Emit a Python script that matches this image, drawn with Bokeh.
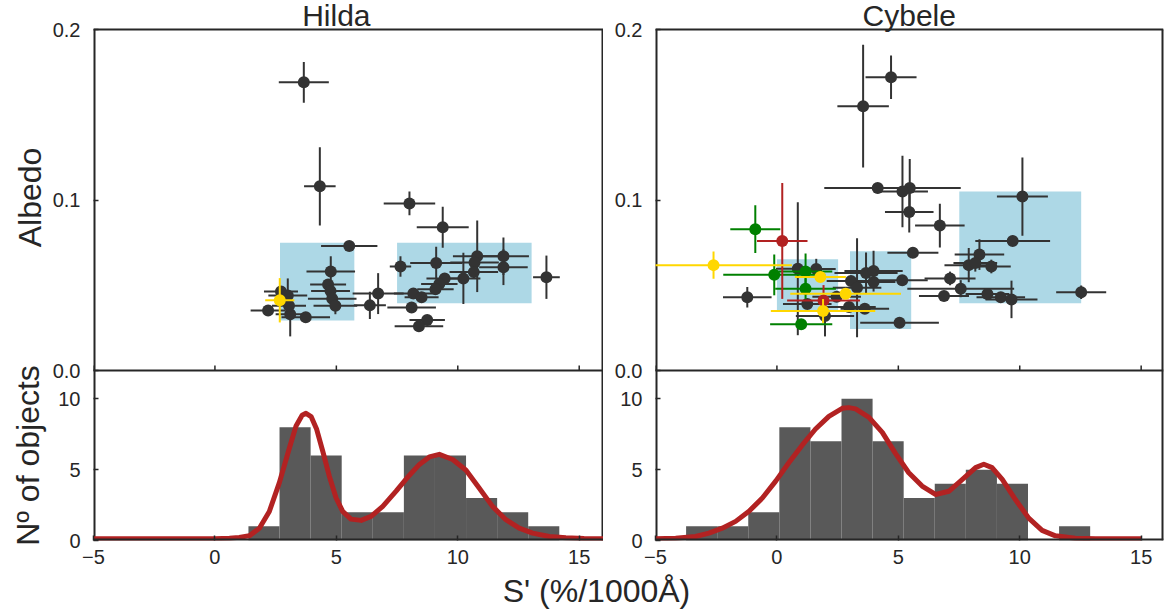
import numpy as np
from bokeh.plotting import figure
from bokeh.layouts import column, row
from bokeh.models import Range1d, FixedTicker, Label, Span
from bokeh.embed import file_html
from bokeh.resources import INLINE

FONT = "Liberation Sans"
INK = "#262626"
DOT = "#333333"

# ---------------- Hilda scatter (S' slope, albedo, errors)
hilda_s = [3.66, 4.32, 8.01, 9.38, 5.53, 7.64, 9.11, 10.80, 11.88, 11.88, 10.69, 10.66,
           10.23, 13.65, 9.46, 9.24, 9.08, 8.17, 6.72, 8.51, 8.10, 6.38, 8.74, 8.40,
           4.77, 4.66, 4.76, 4.83, 4.96, 3.74, 3.10, 2.19, 2.72, 3.00, 3.05]
hilda_alb = [0.169, 0.108, 0.098, 0.084, 0.073, 0.061, 0.063, 0.067, 0.067, 0.0606, 0.0634, 0.0577,
             0.054, 0.0547, 0.054, 0.0508, 0.0476, 0.0451, 0.0451, 0.0430, 0.0370, 0.0382, 0.0296, 0.0260,
             0.0580, 0.0505, 0.0466, 0.0421, 0.0380, 0.0312, 0.0330, 0.0352, 0.0464, 0.0440, 0.0380]
hilda_s_err = [1.03, 0.65, 1.06, 1.07, 1.16, 0.44, 1.07, 1.00, 1.05, 1.00, 1.00, 1.00,
               0.70, 0.55, 0.75, 0.75, 0.75, 0.80, 1.05, 0.70, 1.00, 0.66, 0.73, 1.00,
               1.00, 0.74, 0.80, 1.00, 0.90, 1.00, 0.60, 0.72, 0.70, 0.80, 0.70]
hilda_alb_err = [0.012, 0.023, 0.007, 0.012, 0.001, 0.006, 0.0096, 0.021, 0.011, 0.0105, 0.005, 0.004,
                 0.015, 0.0127, 0.003, 0.002, 0.002, 0.003, 0.012, 0.002, 0.002, 0.008, 0.002, 0.002,
                 0.009, 0.003, 0.003, 0.003, 0.005, 0.002, 0.013, 0.002, 0.003, 0.010, 0.004]
hilda_yel_s = [2.67]
hilda_yel_alb = [0.0412]
hilda_yel_s_err = [0.60]
hilda_yel_alb_err = [0.013]

# blue boxes (S' range, albedo range)
hilda_box_left = [2.68, 7.50]
hilda_box_right = [5.74, 13.04]
hilda_box_bottom = [0.0293, 0.0394]
hilda_box_top = [0.075, 0.075]

# ---------------- Cybele scatter
cyb_s = [4.70, 3.55, 4.15, 5.47, 5.17, 5.45, 6.71, 10.11, 9.71, 5.60, 8.34, 7.90,
         8.17, 8.83, 7.13, 7.57, 6.88, 8.67, 9.22, 9.66, 12.53, 5.05, -1.22, 0.86,
         1.62, 3.05, 3.30, 3.67, 3.98, 3.98, 5.16, 2.97, 3.62, 1.25, 1.98, 2.46]
cyb_alb = [0.172, 0.155, 0.107, 0.107, 0.105, 0.093, 0.085, 0.102, 0.076, 0.069, 0.068, 0.0618,
           0.063, 0.061, 0.054, 0.048, 0.0437, 0.0449, 0.0429, 0.0417, 0.0459, 0.0280, 0.0430, 0.0597,
           0.0595, 0.0525, 0.0485, 0.0572, 0.0583, 0.0519, 0.0530, 0.0373, 0.0362, 0.0390, 0.0320, 0.0432]
cyb_s_err = [1.05, 1.06, 2.20, 2.10, 1.05, 1.00, 1.02, 1.05, 1.54, 1.05, 1.02, 1.00,
             0.90, 0.80, 1.05, 2.20, 1.03, 0.90, 1.00, 1.07, 1.03, 1.62, 1.00, 0.90,
             0.80, 1.00, 1.00, 1.30, 1.20, 0.90, 1.05, 1.10, 1.00, 1.00, 1.20, 1.00]
cyb_alb_err = [0.0128, 0.036, 0.003, 0.017, 0.021, 0.012, 0.0128, 0.023, 0.003, 0.002, 0.009, 0.010,
               0.005, 0.004, 0.004, 0.005, 0.002, 0.002, 0.002, 0.011, 0.004, 0.002, 0.006, 0.039,
               0.006, 0.003, 0.029, 0.012, 0.012, 0.003, 0.002, 0.003, 0.003, 0.003, 0.012, 0.003]
cyb_green_s = [-0.89, -0.11, 1.18, 1.18, 1.00]
cyb_green_alb = [0.0829, 0.0561, 0.0581, 0.0480, 0.0271]
cyb_green_s_err = [1.03, 2.10, 1.10, 1.25, 1.28]
cyb_green_alb_err = [0.014, 0.012, 0.0105, 0.006, 0.003]
cyb_red_s = [0.22, 1.92]
cyb_red_alb = [0.076, 0.0411]
cyb_red_s_err = [1.04, 1.50]
cyb_red_alb_err = [0.034, 0.009]
cyb_yel_s = [-2.61, 1.79, 2.83, 1.90]
cyb_yel_alb = [0.0618, 0.0549, 0.0450, 0.0349]
cyb_yel_s_err = [3.23, 1.05, 2.28, 2.15]
cyb_yel_alb_err = [0.008, 0.003, 0.003, 0.007]

cyb_box_left = [0.00, 3.01, 7.51]
cyb_box_right = [2.52, 5.53, 12.53]
cyb_box_bottom = [0.0352, 0.0244, 0.0394]
cyb_box_top = [0.0652, 0.0699, 0.105]

# ---------------- histograms
hilda_edges = [1.38, 2.66, 3.94, 5.22, 6.50, 7.78, 9.06, 10.34, 11.62, 12.90, 14.18]
hilda_counts = [1, 8, 6, 2, 2, 6, 6, 3, 2, 1]
cyb_edges = [-3.74, -2.46, -1.18, 0.10, 1.38, 2.66, 3.94, 5.22, 6.50, 7.78, 9.06, 10.34, 11.62, 12.90]
cyb_counts = [1, 1, 2, 8, 7, 10, 7, 3, 4, 5, 4, 0, 1]

# density curves
hilda_curve_x = [-5.0, -2.0, 0.0, 0.6, 1.0, 1.42, 1.83, 2.24, 2.65, 3.07, 3.34, 3.59, 3.75, 3.96,
                 4.19, 4.44, 4.71, 4.99, 5.26, 5.6, 6.02, 6.43, 6.91, 7.46, 8.0, 8.42, 8.83, 9.24,
                 9.79, 10.34, 10.88, 11.43, 11.98, 12.53, 13.08, 13.77, 14.45, 15.2, 16.0]
hilda_curve_y = [0.12, 0.12, 0.13, 0.16, 0.22, 0.33, 0.87, 2.05, 4.07, 6.55, 8.09, 8.84, 8.98, 8.75,
                 7.85, 6.3, 4.54, 3.0, 2.06, 1.51, 1.42, 1.7, 2.41, 3.48, 4.59, 5.37, 5.9, 6.08,
                 5.72, 4.96, 3.71, 2.41, 1.47, 0.87, 0.52, 0.28, 0.19, 0.14, 0.13]
cyb_curve_x = [-5.0, -4.17, -3.35, -2.8, -2.25, -1.7, -1.15, -0.6, -0.05, 0.49, 1.04, 1.59, 2.14,
               2.69, 2.96, 3.24, 3.79, 4.34, 4.88, 5.43, 5.98, 6.53, 7.09, 7.64, 8.18, 8.52, 8.86,
               9.28, 9.82, 10.37, 10.92, 11.47, 12.29, 13.12, 15.0]
cyb_curve_y = [0.12, 0.16, 0.28, 0.52, 0.87, 1.35, 2.06, 3.0, 4.19, 5.49, 6.73, 7.87, 8.76,
               9.33, 9.38, 9.29, 8.69, 7.63, 6.15, 4.78, 3.84, 3.25, 3.48, 4.31, 5.14, 5.38, 5.14,
               4.31, 2.89, 1.58, 0.71, 0.33, 0.16, 0.12, 0.12]

x_ticks = [-5, 0, 5, 10, 15]
alb_ticks = [0.0, 0.1, 0.2]
alb_labels = ["0.0", "0.1", "0.2"]
count_ticks = [0, 5, 10]
count_labels = ["0", "5", "10"]

# panel geometry (pixels): title strip, scatter panel, histogram panel stacked in one frame
TITLE_H, TOP_H, BOT_H, XTICK_H, XLAB_H = 29, 341, 170, 32, 38
ALB_MAX, CNT_MAX = 0.2, 12.0
ALB_PX = ALB_MAX / TOP_H                      # albedo per pixel
alb_lo = -BOT_H * ALB_PX                      # albedo value at the bottom of the histogram panel
alb_hi = ALB_MAX + TITLE_H * ALB_PX           # albedo value at the top of the title strip
cnt_hi = CNT_MAX * (TITLE_H + TOP_H + BOT_H) / BOT_H


def cnt_to_alb(v):
    return alb_lo + v * (alb_hi - alb_lo) / cnt_hi


def blank(w, h):
    p = figure(frame_width=w, frame_height=h, x_range=Range1d(0, w), y_range=Range1d(0, h),
               output_backend="svg", toolbar_location=None, min_border=0)
    p.axis.visible = False
    p.grid.visible = False
    p.outline_line_color = None
    return p


def text(p, x, y, s, size, angle=0.0):
    p.add_layout(Label(x=x, y=y, text=s, angle=angle, text_align="center", text_baseline="middle",
                       text_font=FONT, text_font_size=size, text_color=INK))


def column_panel(fw, xmax, bl, br, title, title_x):
    p = figure(frame_width=fw, frame_height=TITLE_H + TOP_H + BOT_H, x_range=Range1d(-5, xmax),
               y_range=Range1d(alb_lo, alb_hi), output_backend="svg", toolbar_location=None,
               min_border_left=bl, min_border_right=br, min_border_top=0, min_border_bottom=XTICK_H)
    p.extra_y_ranges = {"cnt": Range1d(0, cnt_hi)}
    p.grid.visible = False
    p.outline_line_color = None
    for ax in (p.xaxis[0], p.yaxis[0]):
        ax.axis_line_color = None
        ax.major_tick_in = 5
        ax.major_tick_out = 0
        ax.minor_tick_line_color = None
        ax.major_tick_line_color = INK
        ax.major_tick_line_width = 1.5
        ax.major_label_text_font = FONT
        ax.major_label_text_font_size = "20px"
        ax.major_label_text_color = INK
        ax.major_label_standoff = 13
    p.xaxis.major_label_standoff = 9
    p.xaxis.ticker = FixedTicker(ticks=x_ticks)
    p.xaxis.major_label_overrides = {-5: "\u22125"}
    yt = list(alb_ticks) + [cnt_to_alb(v) for v in count_ticks]
    p.yaxis.ticker = FixedTicker(ticks=yt)
    p.yaxis.major_label_overrides = dict(zip(yt, alb_labels + count_labels))
    # panel borders: top of scatter panel, divider, bottom, sides
    p.add_layout(Span(location=ALB_MAX, dimension="width", line_color=INK, line_width=2))
    p.add_layout(Span(location=0.0, dimension="width", line_color=INK, line_width=2))
    p.add_layout(Span(location=alb_lo, dimension="width", line_color=INK, line_width=4))
    p.segment([-5, xmax], [alb_lo, alb_lo], [-5, xmax], [ALB_MAX, ALB_MAX],
              line_color=INK, line_width=4)
    # inward ticks on the bottom edge of the scatter panel
    p.segment(x_ticks, [0.0] * len(x_ticks), x_ticks, [5 * ALB_PX] * len(x_ticks),
              line_color=INK, line_width=1.5)
    text(p, title_x, ALB_MAX + 14 * ALB_PX, title, "30px")
    return p


def scatter(p, xs, ys, xe, ye, color):
    xs = np.array(xs); ys = np.array(ys); xe = np.array(xe); ye = np.array(ye)
    p.segment(xs - xe, ys, xs + xe, ys, line_color=color, line_width=2)
    p.segment(xs, ys - ye, xs, ys + ye, line_color=color, line_width=2)
    p.scatter(xs, ys, size=12, fill_color=color, line_color=None)


def histogram(p, edges, counts, cx, cy):
    p.quad(left=edges[:-1], right=edges[1:], bottom=0, top=counts,
           fill_color="#595959", line_color=None, y_range_name="cnt")
    p.line(cx, cy, line_color="#B22222", line_width=5, line_join="round", y_range_name="cnt")


# Hilda column
pL = column_panel(510, 16.0, 45, 0, "Hilda", 5.0)
pL.quad(left=hilda_box_left, right=hilda_box_right, bottom=hilda_box_bottom, top=hilda_box_top,
        fill_color="#ADD8E6", line_color=None)
scatter(pL, hilda_s, hilda_alb, hilda_s_err, hilda_alb_err, DOT)
scatter(pL, hilda_yel_s, hilda_yel_alb, hilda_yel_s_err, hilda_yel_alb_err, "#FFD700")
histogram(pL, hilda_edges, hilda_counts, hilda_curve_x, hilda_curve_y)

# Cybele column
pR = column_panel(508, 15.92, 52, 2, "Cybele", 5.45)
pR.quad(left=cyb_box_left, right=cyb_box_right, bottom=cyb_box_bottom, top=cyb_box_top,
        fill_color="#ADD8E6", line_color=None)
scatter(pR, cyb_s, cyb_alb, cyb_s_err, cyb_alb_err, DOT)
scatter(pR, cyb_green_s, cyb_green_alb, cyb_green_s_err, cyb_green_alb_err, "#008000")
scatter(pR, cyb_red_s, cyb_red_alb, cyb_red_s_err, cyb_red_alb_err, "#B22222")
scatter(pR, cyb_yel_s, cyb_yel_alb, cyb_yel_s_err, cyb_yel_alb_err, "#FFD700")
histogram(pR, cyb_edges, cyb_counts, cyb_curve_x, cyb_curve_y)

# y-axis label strip
ylab_h = TITLE_H + TOP_H + BOT_H + XTICK_H
pY = blank(48, ylab_h)
text(pY, 29, ylab_h - 197, "Albedo", "32px", angle=np.pi / 2)
text(pY, 27, ylab_h - 455, "N\u00ba of objects", "32px", angle=np.pi / 2)

# x-axis label strip
pX = blank(1165, XLAB_H)
text(pX, 596, XLAB_H - 18, "S' (%/1000\u00c5)", "32px")

layout = column(row(pY, pL, pR), pX)
open("out.html", "w").write(file_html(layout, INLINE))
